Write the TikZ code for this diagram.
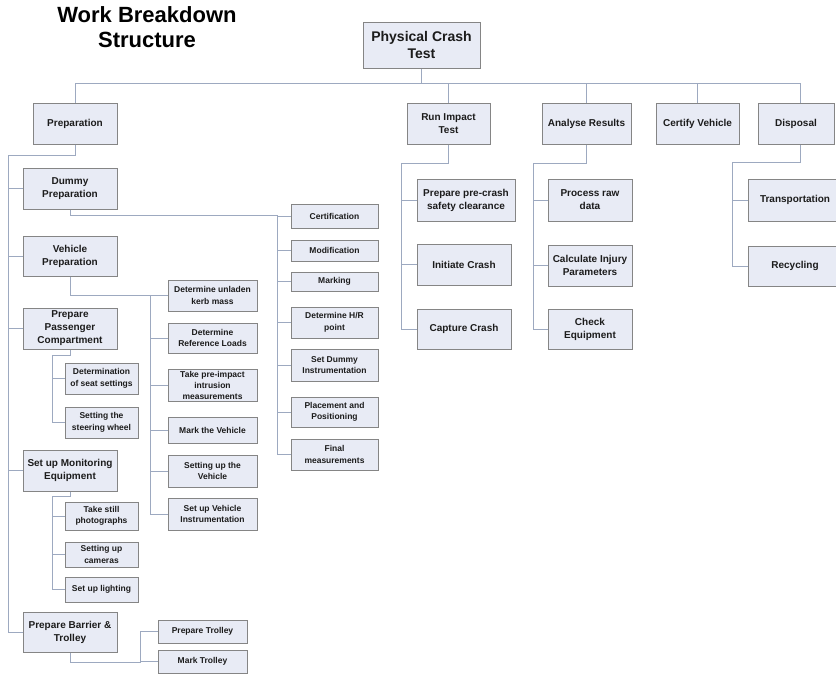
\documentclass[tikz,border=0pt]{standalone}
\usepackage{fontspec}
\setmainfont{Liberation Sans}
\definecolor{boxfill}{HTML}{E8EBF5}
\definecolor{boxline}{HTML}{858585}
\definecolor{conn}{HTML}{9DA9C0}
\definecolor{txt}{HTML}{1C1C1C}
\tikzset{
  wbs/.style={draw=boxline, fill=boxfill, line width=1pt, text=txt, align=center,
              inner xsep=2pt, inner ysep=0pt, font=\bfseries\fontsize{10}{13}\selectfont},
  small/.style={wbs, font=\bfseries\fontsize{8.5}{11.5}\selectfont},
  link/.style={draw=conn, line width=1pt}
}
\begin{document}
\begin{tikzpicture}[x=1pt,y=-1pt]
\useasboundingbox (0,0) rectangle (836,673);
\clip (0,0) rectangle (836,673);
\fill[white] (0,0) rectangle (836,673);

% title
\node[anchor=north, align=center, inner sep=0pt, text=black,
      font=\bfseries\fontsize{22}{25}\selectfont] (title) at (147,6) {Work Breakdown\\Structure};

% root
\node[wbs, font=\bfseries\fontsize{14}{17}\selectfont, minimum width=117pt, minimum height=46pt] (root) at (421.5,45) {Physical Crash\\Test};

% level 1
\node[wbs, minimum width=84pt, minimum height=41pt] (prep) at (75,123.5) {Preparation};
\node[wbs, minimum width=83pt, minimum height=41pt] (run)  at (448.5,123.5) {Run Impact\\Test};
\node[wbs, minimum width=89pt, minimum height=41pt] (ana)  at (586.5,123.5) {Analyse Results};
\node[wbs, minimum width=83pt, minimum height=41pt] (cert) at (697.5,123.5) {Certify Vehicle};
\node[wbs, minimum width=76pt, minimum height=41pt] (disp) at (796,123.5) {Disposal};

% bus
\coordinate (busL) at (75,83);
\coordinate (busR) at (800,83);
\draw[link] (busL) -- (busR);
\draw[link] (root.south) -- (root.south |- busL);
\draw[link] (busL) -- (prep.north);
\draw[link] (run.north |- busL) -- (run.north);
\draw[link] (ana.north |- busL) -- (ana.north);
\draw[link] (cert.north |- busL) -- (cert.north);
\draw[link] (busR) -- (busR |- disp.north);

% Preparation children
\node[wbs, minimum width=94pt, minimum height=41pt] (dummy) at (70,188.5) {Dummy\\Preparation};
\node[wbs, minimum width=94pt, minimum height=40pt] (veh)   at (70,256) {Vehicle\\Preparation};
\node[wbs, minimum width=94pt, minimum height=41pt] (ppc)   at (70,328.5) {Prepare\\Passenger\\Compartment};
\node[wbs, minimum width=94pt, minimum height=41pt] (mon)   at (70,470.5) {Set up Monitoring\\Equipment};
\node[wbs, minimum width=94pt, minimum height=40pt] (bar)   at (70,632) {Prepare Barrier \&\\Trolley};

\coordinate (pA) at (75,155);
\coordinate (pB) at (8,155);
\coordinate (pC) at (8,632);
\draw[link] (prep.south) -- (pA) -- (pB) -- (pC);
\foreach \n in {dummy,veh,ppc,mon,bar} \draw[link] (pB |- \n.west) -- (\n.west);

% Dummy children
\node[small, minimum width=87pt, minimum height=24pt] (certi) at (334.5,216) {Certification};
\node[small, minimum width=87pt, minimum height=21pt] (modi)  at (334.5,250.5) {Modification};
\node[small, minimum width=87pt, minimum height=19pt] (marki) at (334.5,281.5) {Marking};
\node[small, minimum width=87pt, minimum height=31pt] (hr)    at (334.5,322.5) {Determine H/R\\point};
\node[small, minimum width=87pt, minimum height=32pt] (sdi)   at (334.5,365) {Set Dummy\\Instrumentation};
\node[small, minimum width=87pt, minimum height=30pt] (place) at (334.5,412) {Placement and\\Positioning};
\node[small, minimum width=87pt, minimum height=31pt] (final) at (334.5,454.5) {Final\\measurements};
\coordinate (dA) at (70,215);
\coordinate (dB) at (277,215);
\draw[link] (dummy.south) -- (dA) -- (dB) -- (dB |- final.west);
\foreach \n in {certi,modi,marki,hr,sdi,place,final} \draw[link] (dB |- \n.west) -- (\n.west);

% Vehicle children
\node[small, minimum width=89pt, minimum height=31pt] (kerb)  at (212.5,295.5) {Determine unladen\\kerb mass};
\node[small, minimum width=89pt, minimum height=30pt] (refl)  at (212.5,338) {Determine\\Reference Loads};
\node[small, minimum width=89pt, minimum height=32pt, font=\bfseries\fontsize{8.5}{11}\selectfont] (take) at (212.5,385) {Take pre-impact\\intrusion\\measurements};
\node[small, minimum width=89pt, minimum height=26pt] (markv) at (212.5,430) {Mark the Vehicle};
\node[small, minimum width=89pt, minimum height=32pt] (setv)  at (212.5,471) {Setting up the\\Vehicle};
\node[small, minimum width=89pt, minimum height=32pt] (svi)   at (212.5,514) {Set up Vehicle\\Instrumentation};
\coordinate (vA) at (70,295);
\coordinate (vB) at (150,295);
\draw[link] (veh.south) -- (vA) -- (vB) -- (vB |- svi.west);
\foreach \n in {kerb,refl,take,markv,setv,svi} \draw[link] (vB |- \n.west) -- (\n.west);

% Passenger compartment children
\node[small, minimum width=73pt, minimum height=31pt] (seat)  at (101.5,378.5) {Determination\\of seat settings};
\node[small, minimum width=73pt, minimum height=31pt] (steer) at (101.5,422.5) {Setting the\\steering wheel};
\coordinate (cA) at (70,355);
\coordinate (cB) at (52,355);
\draw[link] (ppc.south) -- (cA) -- (cB) -- (cB |- steer.west);
\foreach \n in {seat,steer} \draw[link] (cB |- \n.west) -- (\n.west);

% Monitoring children
\node[small, minimum width=73pt, minimum height=28pt] (still) at (101.5,516) {Take still\\photographs};
\node[small, minimum width=73pt, minimum height=25pt] (cam)   at (101.5,554.5) {Setting up\\cameras};
\node[small, minimum width=73pt, minimum height=25pt] (light) at (101.5,589.5) {Set up lighting};
\coordinate (mA) at (70,496);
\coordinate (mB) at (52,496);
\draw[link] (mon.south) -- (mA) -- (mB) -- (mB |- light.west);
\foreach \n in {still,cam,light} \draw[link] (mB |- \n.west) -- (\n.west);

% Barrier children
\node[small, minimum width=89pt, minimum height=23pt] (ptrol) at (202.5,631.5) {Prepare Trolley};
\node[small, minimum width=89pt, minimum height=23pt] (mtrol) at (202.5,661.5) {Mark Trolley};
\coordinate (bA) at (70,662);
\coordinate (bB) at (140,662);
\draw[link] (bar.south) -- (bA) -- (bB) -- (bB |- ptrol.west);
\foreach \n in {ptrol,mtrol} \draw[link] (bB |- \n.west) -- (\n.west);

% Run Impact Test children
\node[wbs, minimum width=98pt, minimum height=42pt] (prec) at (466,200) {Prepare pre-crash\\safety clearance};
\node[wbs, minimum width=94pt, minimum height=41pt] (init) at (464,264.5) {Initiate Crash};
\node[wbs, minimum width=94pt, minimum height=40pt] (capt) at (464,329) {Capture Crash};
\coordinate (rA) at (448.5,163);
\coordinate (rB) at (401,163);
\draw[link] (run.south) -- (rA) -- (rB) -- (rB |- capt.west);
\foreach \n in {prec,init,capt} \draw[link] (rB |- \n.west) -- (\n.west);

% Analyse Results children
\node[wbs, minimum width=84pt, minimum height=42pt] (raw) at (590,200) {Process raw\\data};
\node[wbs, minimum width=84pt, minimum height=41pt] (inj) at (590,265.5) {Calculate Injury\\Parameters};
\node[wbs, minimum width=84pt, minimum height=40pt] (chk) at (590,329) {Check\\Equipment};
\coordinate (aA) at (586.5,163);
\coordinate (aB) at (533,163);
\draw[link] (ana.south) -- (aA) -- (aB) -- (aB |- chk.west);
\foreach \n in {raw,inj,chk} \draw[link] (aB |- \n.west) -- (\n.west);

% Disposal children
\node[wbs, minimum width=94pt, minimum height=42pt] (trans) at (795,200) {Transportation};
\node[wbs, minimum width=94pt, minimum height=40pt] (recyc) at (795,266) {Recycling};
\coordinate (xA) at (800,162);
\coordinate (xB) at (732,162);
\draw[link] (disp.south -| busR) -- (xA) -- (xB) -- (xB |- recyc.west);
\foreach \n in {trans,recyc} \draw[link] (xB |- \n.west) -- (\n.west);
\end{tikzpicture}
\end{document}
